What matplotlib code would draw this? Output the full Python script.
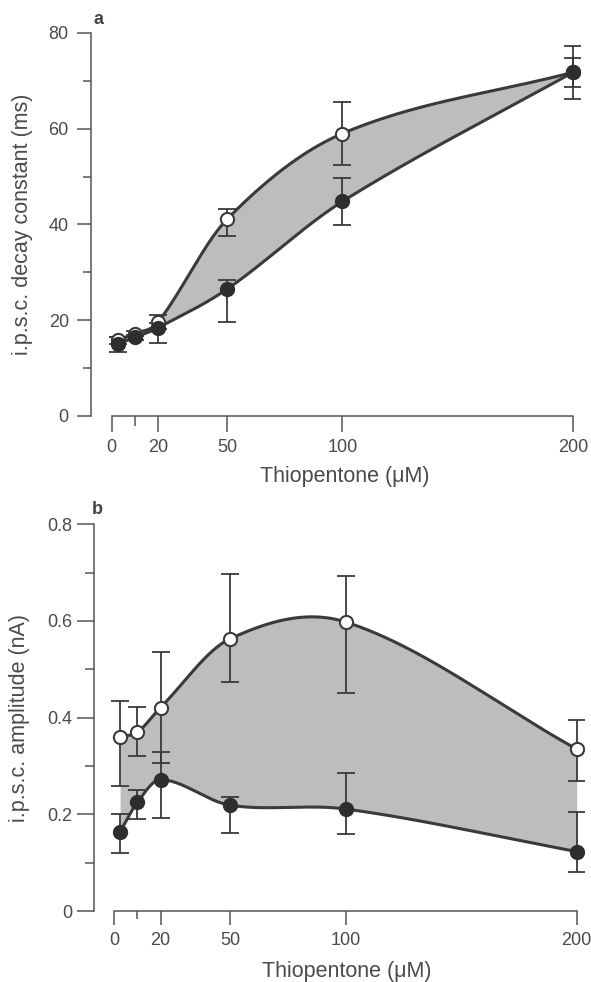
import numpy as np
import matplotlib.pyplot as plt

plt.rcParams['font.family'] = ['Liberation Sans', 'DejaVu Sans']

# concentrations (uM)
conc = [2.5, 10, 20, 50, 100, 200]

# panel a: decay constant (ms)
decay_open = [15.8, 17.2, 19.6, 41.1, 59.0, 71.8]
decay_open_lo = [0.8, 0.5, 1.5, 3.6, 6.5, 5.5]
decay_open_hi = [0.8, 0.5, 1.5, 2.1, 6.5, 5.5]
decay_closed = [15.0, 16.4, 18.4, 26.5, 44.8, 71.8]
decay_closed_lo = [1.6, 0.6, 3.1, 6.8, 4.9, 3.0]
decay_closed_hi = [1.6, 0.6, 1.0, 1.9, 4.9, 3.0]

# panel b: amplitude (nA)
amp_open = [0.361, 0.370, 0.421, 0.563, 0.598, 0.335]
amp_open_lo = [0.102, 0.050, 0.115, 0.089, 0.146, 0.066]
amp_open_hi = [0.073, 0.052, 0.115, 0.134, 0.096, 0.060]
amp_closed = [0.164, 0.225, 0.272, 0.219, 0.211, 0.123]
amp_closed_lo = [0.043, 0.035, 0.080, 0.057, 0.052, 0.043]
amp_closed_hi = [0.036, 0.025, 0.056, 0.017, 0.075, 0.082]

xticks = [0, 20, 50, 100, 200]
xlabel = 'Thiopentone (μM)'

grey = '#555555'
txt = '#4a4a4a'
dark = '#3a3a3a'
fillc = '#bdbdbd'


def smooth(x, y, n=400):
    # cubic hermite curve through the points
    x = np.asarray(x, float)
    y = np.asarray(y, float)
    m = np.zeros_like(y)
    m[0] = (y[1] - y[0]) / (x[1] - x[0])
    m[-1] = (y[-1] - y[-2]) / (x[-1] - x[-2])
    m[1:-1] = (y[2:] - y[:-2]) / (x[2:] - x[:-2])
    xs = np.linspace(x[0], x[-1], n)
    i = np.clip(np.searchsorted(x, xs) - 1, 0, len(x) - 2)
    h = x[i + 1] - x[i]
    t = (xs - x[i]) / h
    h00 = 2 * t**3 - 3 * t**2 + 1
    h10 = t**3 - 2 * t**2 + t
    h01 = -2 * t**3 + 3 * t**2
    h11 = t**3 - t**2
    ys = h00 * y[i] + h10 * h * m[i] + h01 * y[i + 1] + h11 * h * m[i + 1]
    return xs, ys


def panel(ax, yo, yo_lo, yo_hi, yc, yc_lo, yc_hi, ymax, ylim, yticks, yminor,
          fmt, ylen, yminlen, ypad, xlen, xminlen):
    xs, so = smooth(conc, yo)
    _, sc = smooth(conc, yc)
    ax.fill_between(xs, so, sc, color=fillc, lw=0, zorder=1)
    ax.plot(xs, so, color=dark, lw=2.2, zorder=2)
    ax.plot(xs, sc, color=dark, lw=2.2, zorder=2)
    ax.errorbar(conc, yo, yerr=[yo_lo, yo_hi], fmt='none', ecolor=dark,
                elinewidth=1.3, capsize=6.8, capthick=1.3, zorder=3)
    ax.errorbar(conc, yc, yerr=[yc_lo, yc_hi], fmt='none', ecolor=dark,
                elinewidth=1.3, capsize=6.8, capthick=1.3, zorder=3)
    ax.plot(conc, yo, 'o', ms=9.5, mfc='white', mec=dark, mew=1.5, zorder=4)
    ax.plot(conc, yc, 'o', ms=9.5, mfc='#2e2e2e', mec='#2e2e2e', mew=1.5, zorder=5)

    ax.set_ylim(*ylim)
    ax.set_yticks(yticks)
    ax.set_yticklabels([fmt.format(v) for v in yticks])
    ax.set_yticks(yminor, minor=True)
    ax.set_xticks(xticks)
    ax.set_xticks([10], minor=True)
    for s in ['top', 'right']:
        ax.spines[s].set_visible(False)
    ax.spines['left'].set_bounds(0, ymax)
    ax.spines['bottom'].set_bounds(0, 200)
    for s in ['left', 'bottom']:
        ax.spines[s].set_color(grey)
        ax.spines[s].set_linewidth(1.1)
    ax.tick_params(axis='y', which='major', length=ylen, width=1.1, color=grey,
                   labelcolor=txt, labelsize=13, pad=ypad)
    ax.tick_params(axis='y', which='minor', length=yminlen, width=1.1, color=grey)
    ax.tick_params(axis='x', which='major', length=xlen, width=1.1, color=grey,
                   labelcolor=txt, labelsize=13, pad=5)
    ax.tick_params(axis='x', which='minor', length=xminlen, width=1.1, color=grey)
    ax.set_xlabel(xlabel, fontsize=15.5, color=txt)


fig = plt.figure(figsize=(5.91, 9.82), dpi=100)

ax1 = fig.add_axes([0.154, 0.5764, 0.8274, 0.3949])
ax1.set_xlim(-9, 203)
panel(ax1, decay_open, decay_open_lo, decay_open_hi,
      decay_closed, decay_closed_lo, decay_closed_hi,
      80, (0, 81), [0, 20, 40, 60, 80], [10, 30, 50, 70], '{:.0f}',
      10, 5.8, 6, 11.5, 7)
ax1.set_ylabel('i.p.s.c. decay constant (ms)', fontsize=15.5, color=txt)
ax1.yaxis.set_label_coords(-0.119, 40 / 81)
ax1.xaxis.set_label_coords(0.519, -0.129)

ax2 = fig.add_axes([0.159, 0.0723, 0.8286, 0.3987])
ax2.set_xlim(-8.8, 203)
panel(ax2, amp_open, amp_open_lo, amp_open_hi,
      amp_closed, amp_closed_lo, amp_closed_hi,
      0.8, (0, 0.81), [0, 0.2, 0.4, 0.6, 0.8], [0.1, 0.3, 0.5, 0.7],
      '{:g}', 12, 6.5, 3.6, 10, 6)
ax2.set_ylabel('i.p.s.c. amplitude (nA)', fontsize=15.5, color=txt)
ax2.yaxis.set_label_coords(-0.131, 0.4 / 0.81)
ax2.xaxis.set_label_coords(0.516, -0.128)

fig.text(98 / 591, 1 - 19 / 982, 'a', fontsize=13, fontweight='bold',
         color='#444444', ha='center', va='center')
fig.text(97 / 591, 1 - 509 / 982, 'b', fontsize=13, fontweight='bold',
         color='#444444', ha='center', va='center')

fig.savefig('out.png', dpi=100)
